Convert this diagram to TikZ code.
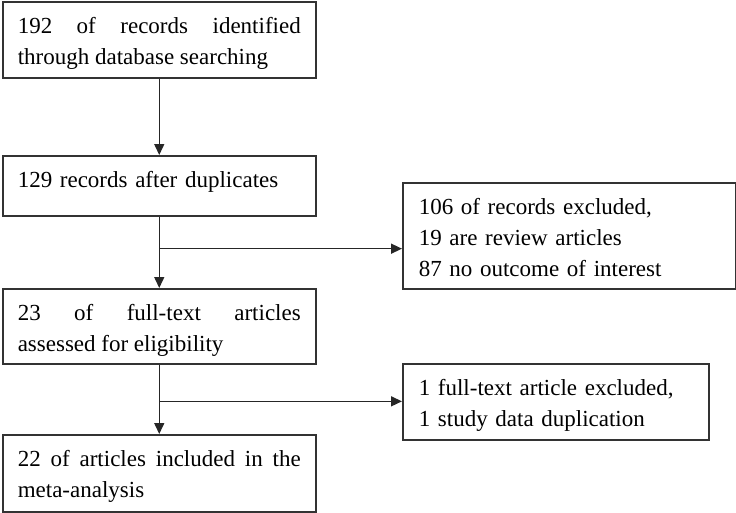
\documentclass[tikz,border=0pt]{standalone}
\usepackage{fontspec}
\setmainfont{Liberation Serif}
\usetikzlibrary{arrows.meta}
\usetikzlibrary{calc}

\begin{document}
\begin{tikzpicture}[x=1pt, y=-1pt, box/.style={draw=black!80, line width=1.5pt, anchor=north west, inner xsep=15pt, inner ysep=0pt, text height=32pt, font=\fontsize{23}{31}\selectfont}, arr/.style={draw=black!85, line width=1.5pt, -{Triangle[length=11pt, width=10pt]}}]
    \useasboundingbox (0,0) rectangle (736,512);
    \node[box, text width=283pt, text depth=44pt, align=justify] (ident) at (2,1) {192 of records identified\linebreak through database searching};
    \node[box, text width=283pt, text depth=28pt, align=left] (dedup) at (2,155) {129 records after duplicates};
    \node[box, text width=283pt, text depth=43pt, align=justify] (full) at (2,288) {23 of full-text articles\linebreak assessed for eligibility};
    \node[box, text width=283pt, text depth=45pt, align=justify] (incl) at (2,434) {22 of articles included in the\linebreak meta-analysis};
    \node[box, inner xsep=16pt, text width=301pt, text depth=74pt, align=left] (excl1) at (402,182) {106 of records excluded,\\ 19 are review articles\\ 87 no outcome of interest};
    \node[box, inner xsep=16pt, text width=274pt, text depth=44pt, align=left] (excl2) at (402,363) {1 full-text article excluded,\\ 1 study data duplication};

    \coordinate (j1) at ($(dedup.south)!0.45!(full.north)$);
    \coordinate (j2) at ($(full.south)!0.53!(incl.north)$);

    \draw[arr] (ident) -- (dedup);
    \draw[arr] (dedup) -- (full);
    \draw[arr] (full) -- (incl);
    \draw[arr] (j1) -- (j1 -| excl1.west);
    \draw[arr] (j2) -- (j2 -| excl2.west);
\end{tikzpicture}
\end{document}
